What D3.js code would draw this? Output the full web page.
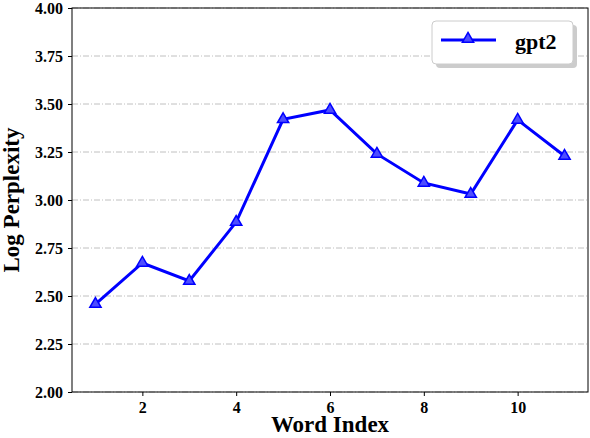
<!DOCTYPE html><html><head><script src="https://d3js.org/d3.v7.min.js"></script>
<style>body{margin:0;background:#fff}</style></head><body><svg id="c" width="590" height="438"></svg>
<script>
const wordIndex=[1,2,3,4,5,6,7,8,9,10,11];
const logPpl=[2.458,2.672,2.578,2.885,3.42,3.469,3.24,3.089,3.031,3.417,3.229];
const yTicks=[2.0,2.25,2.5,2.75,3.0,3.25,3.5,3.75,4.0];
const xTicks=[2,4,6,8,10];
const svg=d3.select("#c");
const L=72,R=588,T=8,B=392;
const x=d3.scaleLinear().domain([0.5,11.5]).range([L,R]);
const y=d3.scaleLinear().domain([2,4]).range([B,T]);
const font="Liberation Serif, Times New Roman, serif";
svg.append("g").selectAll("line").data(yTicks).join("line")
 .attr("x1",L).attr("x2",R).attr("y1",d=>y(d)).attr("y2",d=>y(d))
 .attr("stroke","#b0b0b0").attr("stroke-width",0.8).attr("stroke-dasharray","6,2,1,2");
const gy=svg.append("g").attr("transform",`translate(${L},0)`).call(d3.axisLeft(y).tickValues(yTicks).tickFormat(d3.format(".2f")).tickSize(4).tickPadding(5));
const gx=svg.append("g").attr("transform",`translate(0,${B})`).call(d3.axisBottom(x).tickValues(xTicks).tickSize(4).tickPadding(6));
[gx,gy].forEach(g=>{g.attr("font-size",null).select(".domain").remove();g.selectAll("text").style("font-family",font).style("font-weight","bold").style("font-size","16px").attr("fill","#000");});
svg.append("rect").attr("x",L).attr("y",T).attr("width",R-L).attr("height",B-T).attr("fill","none").attr("stroke","#000");
svg.append("path").datum(wordIndex.map((d,i)=>[d,logPpl[i]])).attr("fill","none").attr("stroke","#0000ff").attr("stroke-width",3)
 .attr("d",d3.line().x(d=>x(d[0])).y(d=>y(d[1])));
const tri=d3.symbol().type(d3.symbolTriangle).size(55);
svg.append("g").selectAll("path").data(wordIndex).join("path").attr("d",tri)
 .attr("transform",(d,i)=>`translate(${x(d)},${y(logPpl[i])})`).attr("fill","#4d4dff").attr("stroke","#0000ff").attr("stroke-width",1.5);
svg.append("text").attr("x",(L+R)/2).attr("y",432).attr("text-anchor","middle").attr("font-family",font).attr("font-weight","bold").attr("font-size",23).text("Word Index");
svg.append("text").attr("transform",`translate(19,${(T+B)/2}) rotate(-90)`).attr("text-anchor","middle").attr("font-family",font).attr("font-weight","bold").attr("font-size",23).text("Log Perplexity");
const lg=svg.append("g");
lg.append("rect").attr("x",436).attr("y",25).attr("width",141).attr("height",43).attr("rx",4).attr("fill","#ccc");
lg.append("rect").attr("x",432).attr("y",21).attr("width",141).attr("height",43).attr("rx",4).attr("fill","#fff").attr("stroke","#ccc");
lg.append("line").attr("x1",441).attr("x2",496).attr("y1",40).attr("y2",40).attr("stroke","#0000ff").attr("stroke-width",3);
lg.append("path").attr("d",tri).attr("transform","translate(468,39)").attr("fill","#4d4dff").attr("stroke","#0000ff").attr("stroke-width",1.5);
lg.append("text").attr("x",515).attr("y",49).attr("font-family",font).attr("font-weight","bold").attr("font-size",22).text("gpt2");
</script></body></html>
